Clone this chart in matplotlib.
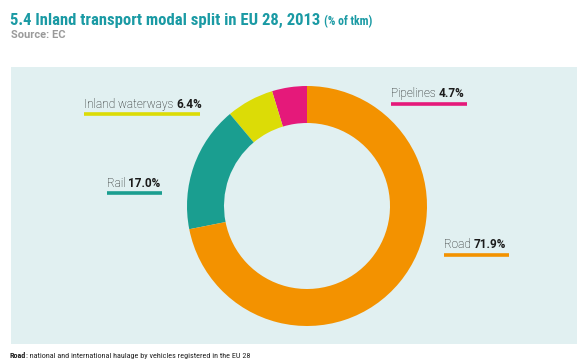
import matplotlib
matplotlib.use("Agg")
import matplotlib.pyplot as plt
from matplotlib.patches import Rectangle
import matplotlib.font_manager as fm
import logging
logging.getLogger("matplotlib.font_manager").setLevel(logging.ERROR)

categories = ["Pipelines", "Inland waterways", "Rail", "Road"]
values = [4.7, 6.4, 17.0, 71.9]
value_labels = ["4.7%", "6.4%", "17.0%", "71.9%"]
colors = ["#e5197a", "#dcdc06", "#1a9e90", "#f39200"]

W, H = 587, 364
fig = plt.figure(figsize=(W / 100, H / 100), dpi=100)
fig.patch.set_facecolor("white")
ax = fig.add_axes([0, 0, 1, 1])

def py(y):
    return H - y

installed = {f.name for f in fm.fontManager.ttflist}
cond_pref = ["Roboto Condensed", "Barlow Condensed", "Archivo Narrow", "PT Sans Narrow",
             "Open Sans Condensed", "Oswald", "Liberation Sans"]
narrow = [n for n in cond_pref if n in installed][:1] + ["DejaVu Sans"]
lab_font = ["Roboto", "DejaVu Sans"]

# panel
ax.add_patch(Rectangle((11, py(344)), 566, 277, facecolor="#e1f0f1", edgecolor="none", zorder=0))

ax.pie(values, colors=colors, startangle=90, counterclock=True,
       center=(307, py(206)), radius=120,
       wedgeprops=dict(width=37, edgecolor="none", linewidth=0))
ax.set_xlim(0, W)
ax.set_ylim(0, H)
ax.set_aspect("auto")
ax.axis("off")

renderer = fig.canvas.get_renderer()
t = fig.text(10 / W, 1 - 25 / H, "5.4 Inland transport modal split in EU 28, 2013",
             fontsize=12, fontweight="bold", color="#1a9aa4", family=narrow)
bb = t.get_window_extent(renderer)
fig.text((bb.x1 + 4) / W, 1 - 25 / H, "(% of tkm)", fontsize=8.5, fontweight="bold",
         color="#1a9aa4", family=narrow)
fig.text(11 / W, 1 - 38 / H, "Source: EC", fontsize=8, fontweight="bold",
         color="#9a9a9a", family=lab_font)

ft = fig.text(10 / W, 1 - 358 / H, "Road", fontsize=5.9, fontweight="bold",
              color="#222222", family=narrow)
bb = ft.get_window_extent(renderer)
fig.text((bb.x1) / W, 1 - 358 / H, ": national and international haulage by vehicles registered in the EU 28",
         fontsize=5.9, color="#222222", family=narrow)

# label positions (x_left, baseline y, underline y, underline x_end)
label_pos = [(391, 97, 104, 467), (84, 108, 114, 200), (107, 187, 193, 162), (444, 248, 255, 509)]
for name, vl, c, (x0, yb, yu, x1) in zip(categories, value_labels, colors, label_pos):
    t1 = ax.text(x0, py(yb), name + " ", fontsize=8.5, fontweight="light", color="#111111",
                 family=lab_font, va="baseline", ha="left")
    b = t1.get_window_extent(renderer)
    ax.text(b.x1, py(yb), vl, fontsize=8.5, fontweight="bold", color="#1a1a1a",
            family=lab_font, va="baseline", ha="left")
    ax.plot([x0, x1], [py(yu), py(yu)], color=c, linewidth=2.6, solid_capstyle="butt")

fig.savefig("out.png", dpi=100)
